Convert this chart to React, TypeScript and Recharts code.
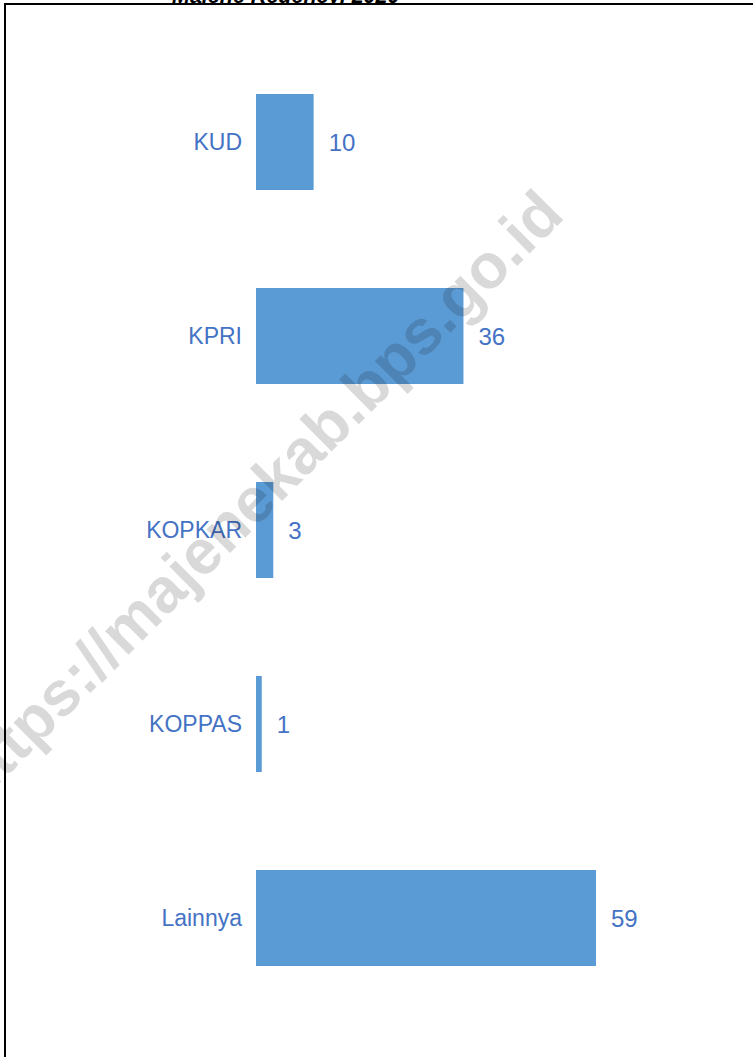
import React from "react";
import { BarChart, Bar, XAxis, YAxis, LabelList } from "recharts";

const categories = ["KUD", "KPRI", "KOPKAR", "KOPPAS", "Lainnya"];
const counts = [10, 36, 3, 1, 59];
const titleText = "Majene Regency, 2020";
const watermarkText = "https://majenekab.bps.go.id";

const data = categories.map((name, i) => ({ name, value: counts[i] }));

const FONT = "'Liberation Sans', Arial, sans-serif";
const BLUE_TEXT = "#4472C4";

export default function App() {
  return (
    <div
      style={{
        position: "fixed",
        top: 0,
        left: 0,
        width: 753,
        height: 1057,
        background: "#ffffff",
        overflow: "hidden",
      }}
    >
      <div style={{ position: "absolute", top: 0, left: 0 }}>
        <BarChart
          width={753}
          height={1057}
          data={data}
          layout="vertical"
          margin={{ top: 45, right: 36, bottom: 42, left: 0 }}
        >
          <XAxis type="number" domain={[0, 80]} hide />
          <YAxis
            type="category"
            dataKey="name"
            width={256}
            axisLine={false}
            tickLine={false}
            tickMargin={8}
            tick={{ fill: BLUE_TEXT, fontSize: 23, fontFamily: FONT }}
          />
          <Bar dataKey="value" fill="#5B9BD5" barSize={96} isAnimationActive={false}>
            <LabelList
              dataKey="value"
              position="right"
              offset={15}
              fill={BLUE_TEXT}
              fontSize={24}
              fontFamily={FONT}
            />
          </Bar>
        </BarChart>
      </div>
      <svg
        width={753}
        height={1057}
        style={{ position: "absolute", top: 0, left: 0, pointerEvents: "none" }}
      >
        <defs>
          <clipPath id="titleClip">
            <rect x={0} y={0} width={753} height={3.5} />
          </clipPath>
        </defs>
        <text
          x={256}
          y={496}
          textAnchor="middle"
          dominantBaseline="central"
          transform="rotate(-45 256 496)"
          fontFamily={FONT}
          fontWeight="bold"
          fontSize={63}
          fill="#000000"
          fillOpacity={0.15}
        >
          {watermarkText}
        </text>
        <g clipPath="url(#titleClip)">
          <text
            x={172}
            y={3}
            fontFamily={FONT}
            fontWeight="bold"
            fontStyle="italic"
            fontSize={21.5}
            fill="#000000"
          >
            {titleText}
          </text>
        </g>
        <rect x={4} y={3} width={749} height={2} fill="#000000" />
        <rect x={4} y={3} width={2} height={1054} fill="#000000" />
      </svg>
    </div>
  );
}
